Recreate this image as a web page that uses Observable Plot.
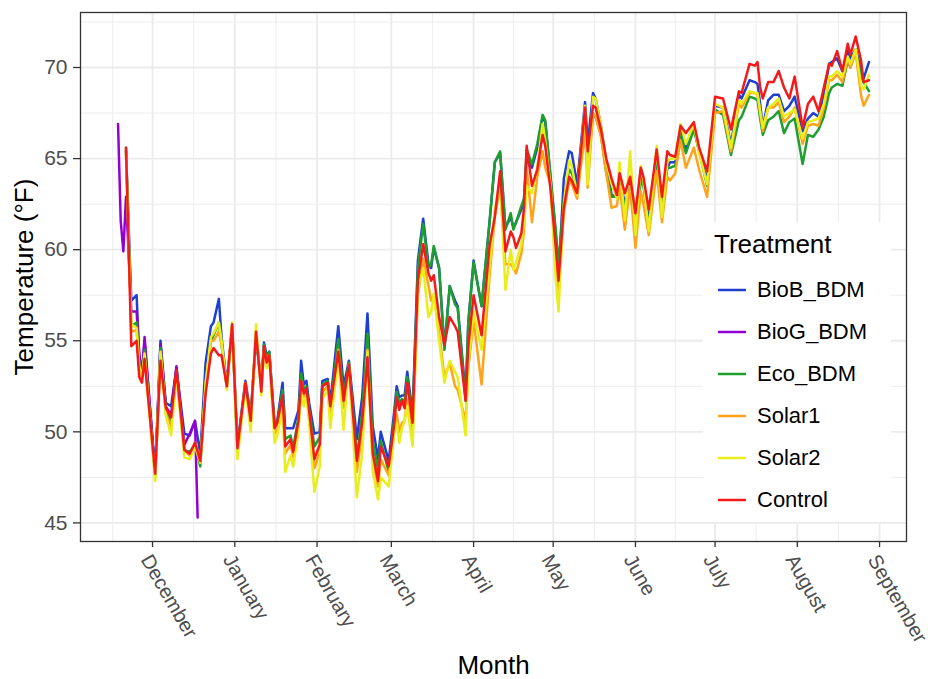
<!DOCTYPE html>
<html>
<head>
<meta charset="utf-8">
<script src="https://cdn.jsdelivr.net/npm/d3@7"></script>
<script src="https://cdn.jsdelivr.net/npm/@observablehq/plot@0.6"></script>
<style>
  body { margin: 0; background: #fff; font-family: "Liberation Sans", Arial, sans-serif; }
  #wrap { position: relative; width: 931px; height: 679px; overflow: hidden; }
  #legend { position: absolute; left: 703px; top: 222px; width: 188px; height: 300px; background: #fff; }
  #legend .t { position: absolute; left: 11px; height: 30px; line-height: 30px; font-size: 26px; color: #000; white-space: nowrap; }
  #legend .lab { position: absolute; left: 54px; height: 30px; line-height: 30px; font-size: 22px; color: #000; white-space: nowrap; }
  #legend svg { position: absolute; left: 15px; }
</style>
</head>
<body>
<div id="wrap"><div id="chart"></div><div id="legend"></div></div>
<script>
// ---- Data (days counted from 1 December 2018) ----
const days = [
  -10, -8, -6, -5, -4, -3,
  1, 3, 5, 7, 9,
  12, 14, 16, 18, 20,
  22, 23, 25, 26, 28,
  30, 32, 35, 37, 39,
  41, 42, 43, 44, 46,
  47, 49, 50, 52, 53,
  55, 56, 57, 58, 59,
  61, 63, 64, 66, 67,
  70, 72, 74, 77, 79,
  81, 83, 85, 86, 89,
  91, 92, 93, 94, 95,
  96, 98, 100, 102, 104,
  105, 106, 108, 110, 112,
  114, 115, 118, 119, 121,
  124, 127, 129, 131, 133,
  135, 136, 137, 139, 140,
  141, 143, 145, 147, 148,
  150, 152, 153, 155, 157,
  158, 160, 163, 164, 166,
  167, 169, 171, 173, 175,
  176, 178, 180, 182, 184,
  185, 187, 190, 192, 194,
  195, 197, 199, 201, 204,
  206, 209, 212, 215, 218,
  221, 222, 225, 227, 228,
  229, 230, 232, 234, 236,
  238, 240, 242, 245, 247,
  249, 251, 253, 255, 256,
  258, 260, 262, 263, 265,
  267, 268, 270
];
const control = [
  65.6, 54.7, 55.0, 53.0, 52.7, 54.0,
  47.7, 53.9, 51.3, 50.8, 53.4,
  49.0, 48.8, 49.4, 48.4, 52.1,
  54.3, 54.6, 54.2, 54.2, 52.5,
  55.9, 49.1, 52.7, 50.6, 55.5,
  52.2, 54.7, 53.8, 54.2, 50.2,
  50.5, 52.0, 49.2, 49.6, 48.9,
  50.6, 52.8, 52.1, 52.4, 51.2,
  48.5, 49.3, 52.5, 52.7, 51.4,
  54.4, 51.7, 53.7, 48.4, 50.5,
  54.1, 48.8, 47.3, 49.2, 48.1,
  50.3, 51.9, 51.2, 51.7, 51.3,
  52.7, 50.5, 58.3, 60.3, 58.7,
  58.3, 58.6, 56.3, 54.8, 56.3,
  55.8, 55.5, 51.7, 54.7, 57.5,
  55.3, 60.2, 61.8, 64.3, 59.9,
  61.0, 60.7, 60.1, 60.9, 62.3,
  65.7, 63.5, 64.4, 66.3, 65.7,
  63.3, 60.1, 58.3, 62.3, 64.0,
  63.8, 63.1, 67.8, 65.4, 67.9,
  67.8, 66.6, 65.0, 63.9, 63.0,
  64.2, 63.1, 64.0, 62.0, 64.5,
  64.0, 62.2, 65.5, 62.9, 65.4,
  65.2, 65.1, 66.8, 66.4, 67.0,
  65.6, 64.3, 68.4, 68.3, 66.6,
  68.7, 68.6, 70.2, 70.1, 70.3,
  68.9, 68.3, 69.2, 69.2, 69.8,
  68.9, 68.3, 69.5, 66.7, 68.0,
  68.4, 67.6, 68.9, 70.2, 70.1,
  70.9, 69.8, 71.3, 70.7, 71.7,
  70.4, 69.2, 69.3
];
const bioB = [
  65.4, 57.2, 57.5, 54.0, 53.2, 55.0,
  47.8, 55.0, 51.6, 51.4, 53.5,
  49.9, 49.8, 50.6, 48.8, 53.8,
  55.8, 56.0, 57.3, 55.2, 52.6,
  55.8, 49.3, 52.8, 50.9, 55.2,
  52.6, 54.9, 54.2, 54.4, 50.4,
  50.6, 52.7, 50.2, 50.2, 50.2,
  51.2, 53.9, 52.6, 52.8, 51.6,
  49.9, 50.0, 52.8, 52.9, 51.6,
  55.8, 52.5, 53.9, 49.6, 51.9,
  56.5, 50.3, 48.5, 50.0, 48.4,
  51.0, 52.5, 51.9, 52.0, 52.0,
  53.3, 51.0, 59.4, 61.7, 59.2,
  59.0, 60.1, 59.0, 54.6, 58.0,
  57.2, 56.9, 52.0, 56.0, 59.4,
  56.9, 61.5, 64.8, 65.3, 61.2,
  61.8, 61.2, 61.5, 62.2, 62.8,
  65.0, 64.5, 65.6, 67.3, 67.0,
  64.0, 60.8, 58.5, 63.9, 65.4,
  65.3, 63.6, 68.1, 65.8, 68.6,
  68.3, 66.8, 64.8, 63.0, 62.9,
  64.0, 62.5, 63.6, 61.2, 64.0,
  63.7, 61.5, 65.3, 62.3, 64.5,
  64.8, 64.8, 66.5, 65.6, 66.8,
  65.4, 63.8, 67.9, 67.8, 65.8,
  68.5, 68.3, 69.3, 69.2, 69.1,
  68.0, 66.7, 68.2, 68.5, 68.5,
  67.6, 67.9, 68.4, 66.5, 67.2,
  67.5, 67.3, 68.5, 70.2, 70.3,
  70.5, 69.8, 70.9, 70.5, 71.0,
  69.9, 69.4, 70.3
];
const eco = [
  65.6, 55.8, 56.0, 53.5, 53.0, 54.5,
  47.6, 54.6, 51.2, 50.5, 53.3,
  49.0, 48.9, 49.3, 48.1, 52.6,
  55.0, 55.3, 56.0, 54.8, 52.4,
  55.8, 49.1, 52.6, 50.8, 55.3,
  52.4, 54.8, 54.0, 54.4, 50.3,
  50.5, 52.3, 49.6, 49.8, 49.1,
  50.8, 53.2, 52.3, 52.5, 51.3,
  49.2, 49.7, 52.6, 52.8, 51.3,
  55.1, 52.0, 53.8, 48.6, 51.0,
  55.4, 49.5, 47.9, 49.5, 47.8,
  50.6, 52.2, 51.6, 51.8, 51.6,
  53.0, 50.7, 59.0, 61.4, 59.0,
  59.2, 60.2, 59.0, 54.5, 58.0,
  57.0, 56.8, 51.7, 56.0, 59.3,
  56.9, 61.5, 64.8, 65.4, 61.1,
  62.0, 61.1, 61.5, 62.4, 62.8,
  65.5, 64.7, 65.8, 67.4, 67.1,
  64.0, 61.0, 59.2, 62.8, 64.4,
  64.2, 63.3, 67.0, 64.8, 67.3,
  67.3, 66.3, 64.2, 62.9, 62.9,
  63.8, 62.3, 63.3, 61.0, 63.8,
  63.5, 61.3, 65.0, 62.2, 64.5,
  64.5, 64.6, 66.3, 65.3, 66.6,
  65.4, 63.5, 67.7, 67.4, 65.2,
  67.1, 67.3, 68.4, 68.3, 68.2,
  67.2, 66.3, 67.1, 67.3, 67.6,
  66.4, 67.0, 67.2, 64.7, 66.3,
  66.2, 66.6, 67.3, 68.6, 68.9,
  69.1, 69.0, 70.4, 70.0, 71.0,
  69.5, 69.2, 68.7
];
const solar1 = [
  65.3, 55.5, 55.6, 53.3, 52.8, 54.0,
  47.5, 54.3, 51.0, 50.3, 53.2,
  49.0, 48.7, 49.4, 48.4, 52.4,
  55.0, 55.0, 55.5, 54.8, 52.5,
  55.9, 49.0, 52.7, 50.4, 55.6,
  52.3, 54.6, 53.8, 54.2, 49.9,
  50.1, 51.8, 48.8, 49.3, 48.6,
  50.4, 52.8, 51.9, 52.2, 51.0,
  48.0, 48.9, 52.2, 52.5, 50.9,
  54.5, 51.3, 53.6, 47.8, 50.0,
  54.5, 48.5, 47.0, 48.5, 47.6,
  49.8, 51.0, 50.0, 50.5, 50.6,
  51.8, 49.8, 57.5, 59.5, 58.0,
  57.2, 57.5, 55.5, 53.0, 53.8,
  52.5, 52.3, 50.6, 53.5, 56.1,
  52.6, 58.5, 61.8, 63.5, 59.2,
  59.2, 59.0, 58.7, 59.8, 61.0,
  64.5, 61.5, 64.0, 65.4, 64.5,
  63.6, 59.0, 57.8, 62.0, 63.8,
  63.6, 62.8, 66.5, 63.4, 67.5,
  67.3, 66.2, 64.2, 62.3, 62.4,
  63.5, 61.1, 63.5, 60.1, 63.2,
  62.5, 60.8, 64.3, 61.5, 64.0,
  63.8, 64.2, 66.0, 64.5, 65.6,
  64.4, 62.9, 67.5, 67.6, 65.4,
  68.0, 67.8, 68.6, 68.6, 68.5,
  67.5, 66.5, 67.8, 67.8, 68.1,
  67.0, 67.3, 67.8, 65.8, 66.8,
  66.9, 66.8, 67.8, 69.3, 69.3,
  69.6, 69.2, 70.5, 70.0, 70.8,
  68.5, 67.9, 68.5
];
const solar2 = [
  65.3, 55.9, 55.7, 53.6, 53.0, 54.3,
  47.3, 54.4, 50.9, 49.8, 53.1,
  48.6, 48.5, 49.2, 48.3, 52.7,
  55.2, 55.4, 56.0, 55.0, 52.3,
  56.0, 48.5, 52.5, 50.0, 55.9,
  52.0, 54.5, 53.5, 54.0, 49.4,
  49.8, 51.3, 47.8, 48.7, 48.1,
  50.0, 52.3, 51.4, 52.0, 50.5,
  46.7, 48.1, 51.8, 52.3, 50.2,
  54.1, 50.1, 53.7, 46.4, 48.8,
  54.4, 47.8, 46.3, 47.5, 47.0,
  49.9, 50.5, 49.4, 50.2, 50.6,
  51.4, 49.2, 57.8, 59.0, 56.3,
  56.6, 57.6, 55.0, 52.7, 53.9,
  53.3, 53.0, 49.8, 53.7, 56.6,
  54.5, 59.0, 62.2, 63.8, 57.8,
  60.0, 58.9, 59.3, 60.3, 61.5,
  63.5, 63.1, 64.5, 66.9, 66.0,
  63.5, 58.3, 56.6, 62.5, 64.9,
  64.6, 63.0, 67.9, 63.6, 68.4,
  68.3, 66.8, 64.8, 63.6, 62.8,
  64.8, 61.6, 65.4, 60.8, 64.6,
  63.8, 61.0, 65.7, 61.8, 64.8,
  65.0, 65.0, 66.9, 65.8, 66.9,
  65.3, 63.6, 68.0, 67.8, 65.6,
  68.2, 68.0, 68.7, 68.6, 68.6,
  67.6, 66.7, 67.8, 68.0, 68.3,
  67.3, 67.5, 67.7, 66.1, 67.0,
  67.1, 67.2, 68.0, 69.5, 69.5,
  69.8, 69.5, 70.6, 70.2, 71.0,
  69.0, 68.8, 69.6
];
const bioGDays = [-13, -12, -11, -10, -8, -6, -5, -4, -3, 1, 3, 5, 7, 9, 12, 14, 16, 17];
const bioG = [66.9, 61.6, 59.9, 62.9, 56.6, 56.6, 54.3, 53.1, 55.2, 47.6, 54.8, 51.4, 50.9, 53.6, 49.3, 49.9, 50.6, 45.3];

const treatments = ["BioB_BDM", "BioG_BDM", "Eco_BDM", "Solar1", "Solar2", "Control"];
const colors = ["#1E3FD0", "#9400D3", "#1E9E2E", "#FFA31A", "#E8EE1A", "#F21A1A"];
const monthLabels = ["December", "January", "February", "March", "April", "May", "June", "July", "August", "September"];
const monthStarts = [[2018, 11], [2019, 0], [2019, 1], [2019, 2], [2019, 3], [2019, 4], [2019, 5], [2019, 6], [2019, 7], [2019, 8]];
const yTicks = [45, 50, 55, 60, 65, 70];

// ---- Build table ----
const base = Date.UTC(2018, 11, 1);
const toDate = d => new Date(base + d * 864e5);
const valuesBy = { BioB_BDM: bioB, Eco_BDM: eco, Solar1: solar1, Solar2: solar2, Control: control };
const rows = [];
for (const t of treatments) {
  if (t === "BioG_BDM") bioGDays.forEach((d, i) => rows.push({ date: toDate(d), temp: bioG[i], treatment: t }));
  else days.forEach((d, i) => rows.push({ date: toDate(d), temp: valuesBy[t][i], treatment: t }));
}

// ggplot-like 5% expansion
const [xa, xb] = d3.extent(rows, r => r.date);
const xpad = (xb - xa) * 0.05;
const xDomain = [new Date(+xa - xpad), new Date(+xb + xpad)];
const [ya, yb] = d3.extent(rows, r => r.temp);
const ypad = (yb - ya) * 0.05;
const yDomain = [ya - ypad, yb + ypad];

const monthTicks = monthStarts.map(([y, m]) => new Date(Date.UTC(y, m, 1)));
const ext = [new Date(Date.UTC(2018, 10, 1)), ...monthTicks, new Date(Date.UTC(2019, 9, 1))];
const minorX = d3.pairs(ext).map(([a, b]) => new Date((+a + +b) / 2)).filter(d => d >= xDomain[0] && d <= xDomain[1]);
const minorY = d3.range(42.5, 75, 5).filter(v => v >= yDomain[0] && v <= yDomain[1]);
const monthData = monthTicks.map((d, i) => ({ date: d, label: monthLabels[i] }));

const chart = Plot.plot({
  width: 931,
  height: 679,
  marginLeft: 80,
  marginRight: 25,
  marginTop: 12,
  marginBottom: 138,
  style: { fontFamily: "Liberation Sans, Arial, sans-serif", background: "#fff" },
  x: { type: "utc", domain: xDomain },
  y: { domain: yDomain },
  color: { domain: treatments, range: colors },
  marks: [
    Plot.gridX(minorX, { stroke: "#EBEBEB", strokeOpacity: 1, strokeWidth: 0.9 }),
    Plot.gridY(minorY, { stroke: "#EBEBEB", strokeOpacity: 1, strokeWidth: 0.9 }),
    Plot.gridX(monthTicks, { stroke: "#EBEBEB", strokeOpacity: 1, strokeWidth: 1.8 }),
    Plot.gridY(yTicks, { stroke: "#EBEBEB", strokeOpacity: 1, strokeWidth: 1.8 }),
    Plot.line(rows, { x: "date", y: "temp", z: "treatment", stroke: "treatment", strokeWidth: 2.5, strokeLinejoin: "round" }),
    Plot.frame({ stroke: "#333333", strokeWidth: 1.3 }),
    Plot.axisY(yTicks, { tickSize: 7, tickPadding: 6, fontSize: 21, fill: "#4D4D4D", stroke: "#333333", strokeWidth: 1.3, label: null }),
    Plot.axisX(monthTicks, { tickSize: 6, stroke: "#333333", strokeWidth: 1.3, fill: "none", label: null }),
    Plot.text(monthData, { x: "date", text: "label", frameAnchor: "bottom", dy: 11, rotate: 60, textAnchor: "start", lineAnchor: "top", fontSize: 20, fill: "#4D4D4D" }),
    Plot.text(["Month"], { text: d => d, frameAnchor: "bottom", dy: 124, textAnchor: "middle", lineAnchor: "middle", fontSize: 26, fill: "#000" }),
    Plot.text(["Temperature (°F)"], { text: d => d, frameAnchor: "left", dx: -56, rotate: -90, textAnchor: "middle", lineAnchor: "middle", fontSize: 26, fill: "#000" })
  ]
});
document.getElementById("chart").append(chart);

// ---- Legend ----
const legend = d3.select("#legend");
legend.append("div").attr("class", "t").style("top", "7px").text("Treatment");
treatments.forEach((t, i) => {
  const cy = 68 + 42 * i;
  const sw = legend.append("svg").attr("width", 28).attr("height", 30).style("top", (cy - 15) + "px");
  sw.append("line").attr("x1", 0).attr("x2", 28).attr("y1", 15).attr("y2", 15)
    .attr("stroke", colors[i]).attr("stroke-width", 2.5);
  legend.append("div").attr("class", "lab").style("top", (cy - 15) + "px").text(t);
});
</script>
</body>
</html>
